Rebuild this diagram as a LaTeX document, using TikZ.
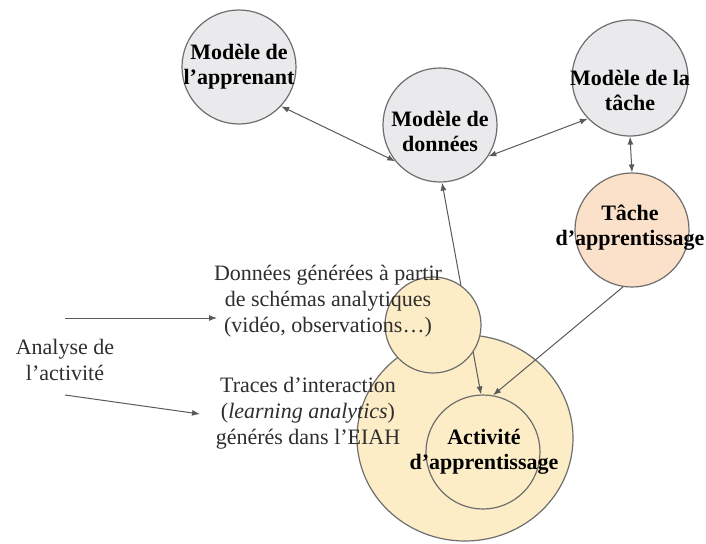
\documentclass[tikz,border=0pt]{standalone}
\usepackage{fontspec}
\setmainfont{LiberationSerif}[Extension=.ttf,UprightFont=*-Regular,BoldFont=*-Bold,ItalicFont=*-Italic,BoldItalicFont=*-BoldItalic]
\usetikzlibrary{arrows.meta,shapes.geometric}
\definecolor{grayfill}{HTML}{EAEAEC}
\definecolor{yellowfill}{HTML}{FCEDC6}
\definecolor{peachfill}{HTML}{FBE1C9}
\definecolor{edgegray}{HTML}{6E6E6E}
\definecolor{linegray}{HTML}{5A5A5A}
\definecolor{txt}{HTML}{2E2E2E}
\begin{document}
\begin{tikzpicture}[x=1pt,y=-1pt,
  bubble/.style={circle,draw=edgegray,line width=1.2pt,inner sep=0pt,minimum size=#1},
  lbl/.style={font=\fontsize{22}{25}\selectfont\bfseries,align=center,text=black,inner sep=0pt},
  note/.style={font=\fontsize{22}{26}\selectfont,align=center,text=txt,inner sep=0pt},
  conn/.style={draw=linegray,line width=1pt},
  onetip/.style={conn,-{Latex[length=8pt,width=6pt]}},
  twotip/.style={conn,{Latex[length=8pt,width=6pt]}-{Latex[length=8pt,width=6pt]}}
]
\fill[white] (0,0) rectangle (706,543);
\useasboundingbox (0,0) rectangle (706,543);

% circles
\node[bubble=114pt, fill=grayfill] (app) at (239,67) {};
\node[bubble=114pt, fill=grayfill] (don) at (440,125) {};
\node[bubble=116pt, fill=grayfill] (mt) at (630,78) {};
\node[bubble=114pt, fill=peachfill] (ta) at (632,230) {};
\node[ellipse, draw=edgegray, line width=1.2pt, fill=yellowfill, inner sep=0pt,
      minimum width=216pt, minimum height=206pt] (big) at (465,438) {};
\node[bubble=114pt, fill=yellowfill] (act) at (483,452) {};

% connectors
\draw[twotip] (app.-43) -- (don.219);
\draw[twotip] (don.-33) -- (mt.224);
\draw[twotip] (mt.-90) -- (ta.90);
\draw[twotip] (don.-88) -- (act.92);
\draw[onetip] (ta.261) -- (act.80);

% small circle on top of the line
\node[bubble=96pt, fill=yellowfill] (obs) at (433,325) {};

% texts
\node[lbl] (tapp) at (239,67) {Modèle de\\l’apprenant};
\node[lbl] (tdon) at (440,131) {Modèle de\\données};
\node[lbl] (tmt) at (630,90) {Modèle de la\\tâche};
\node[lbl] (tta) at (630,228) {Tâche\\d’apprentissage};
\node[lbl] (tact) at (484,452) {Activité\\d’apprentissage};

\node[note] (tobs) at (328,301) {Données générées à partir\\de schémas analytiques\\(vidéo, observations…)};
\node[note] (ttr) at (308,413) {Traces d’interaction\\(\textit{learning analytics})\\générés dans l’EIAH};
\node[note] (tan) at (65,360) {Analyse de\\l’activité};

% arrows from the analysis label
\coordinate (s1) at (65,318);
\coordinate (e1) at (217,318);
\coordinate (s2) at (65,395);
\coordinate (e2) at (200,414);
\draw[onetip] (s1) -- (e1);
\draw[onetip] (s2) -- (e2);
\end{tikzpicture}
\end{document}
